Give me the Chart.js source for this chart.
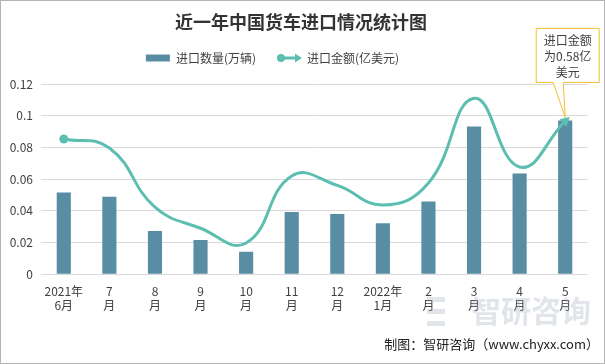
<!DOCTYPE html>
<html>
<head>
<meta charset="utf-8">
<script src="https://cdn.jsdelivr.net/npm/chart.js@4"></script>
<style>
  body { margin: 0; background: #fff; }
  #wrap { width: 605px; height: 364px; box-sizing: border-box; border: 1px solid #b4b4b4; position: relative; }
</style>
</head>
<body>
<div id="wrap"><canvas id="truck-chart" width="603" height="362"></canvas></div>
<script>
const truck_chart = document.getElementById("truck-chart");

const months = [
    ["2021年", "6月"], ["7", "月"], ["8", "月"], ["9", "月"], ["10", "月"], ["11", "月"],
    ["12", "月"], ["2022年", "1月"], ["2", "月"], ["3", "月"], ["4", "月"], ["5", "月"]
];
// 进口数量(万辆)
const quantity = [0.0515, 0.0488, 0.0272, 0.0216, 0.0142, 0.0392, 0.0380, 0.0322, 0.0458, 0.0932, 0.0635, 0.0970];
// 进口金额(亿美元)
const amount = [0.512, 0.478, 0.254, 0.174, 0.118, 0.372, 0.336, 0.262, 0.345, 0.666, 0.406, 0.58];
const y_ticks = [0, 0.02, 0.04, 0.06, 0.08, 0.1, 0.12];

const bar_color = 'rgb(88, 141, 164)';
const line_color = 'rgb(92, 190, 177)';
const legend_shift = -22;

const last = amount.length - 1;
const point_styles = amount.map((v, i) => i === 0 ? 'circle' : (i === last ? 'triangle' : false));
const point_radius = amount.map((v, i) => i === 0 ? 4.5 : (i === last ? 6 : 0));
const point_rotation = amount.map((v, i) => i === last ? 48 : 0);

// extra room under the legend, legend sits a bit left of centre
const legendGap = {
  id: 'legendGap',
  beforeInit(chart) {
    const lg = chart.legend;
    const fit = lg.fit;
    lg.fit = function () {
      fit.bind(lg)();
      this.height += 10;
    };
    const draw = lg.draw;
    lg.draw = function () {
      chart.ctx.save();
      chart.ctx.translate(legend_shift, 0);
      draw.bind(lg)();
      chart.ctx.restore();
    };
  }
};

// title, footer, watermark, callout and legend line symbol
const extras = {
  id: 'extras',
  afterDraw(chart) {
    const ctx = chart.ctx;
    ctx.save();
    ctx.textAlign = 'center';
    ctx.textBaseline = 'middle';
    ctx.fillStyle = '#333';
    ctx.font = 'bold 18px "Noto Sans CJK SC"';
    ctx.fillText('近一年中国货车进口情况统计图', 300, 21);

    // watermark
    ctx.globalAlpha = 0.35;
    ctx.fillStyle = '#a9b4c2';
    ctx.font = 'bold 30px "Noto Sans CJK SC"';
    ctx.textAlign = 'left';
    ctx.fillText('智研咨询', 470, 310);
    ctx.fillRect(426, 296, 18, 5);
    ctx.fillRect(426, 308, 18, 5);
    ctx.fillRect(426, 320, 18, 5);
    ctx.globalAlpha = 1;

    // footer
    ctx.fillStyle = '#222';
    ctx.font = '13px "Noto Sans CJK SC"';
    ctx.textAlign = 'right';
    ctx.fillText('制图：智研咨询（www.chyxx.com）', 598, 343);

    // legend line symbol
    const boxes = chart.legend.legendHitBoxes;
    if (boxes && boxes[1]) {
      const b = boxes[1];
      const bl = b.left + legend_shift;
      const cy = b.top + b.height / 2;
      ctx.fillStyle = '#fff';
      ctx.fillRect(bl - 3, b.top - 3, 30, b.height + 6);
      ctx.strokeStyle = line_color;
      ctx.fillStyle = line_color;
      ctx.lineWidth = 3;
      ctx.beginPath();
      ctx.moveTo(bl + 4, cy);
      ctx.lineTo(bl + 20, cy);
      ctx.stroke();
      ctx.beginPath();
      ctx.arc(bl + 4, cy, 4, 0, Math.PI * 2);
      ctx.fill();
      ctx.beginPath();
      ctx.moveTo(bl + 25, cy);
      ctx.lineTo(bl + 18, cy - 4.5);
      ctx.lineTo(bl + 18, cy + 4.5);
      ctx.closePath();
      ctx.fill();
    }

    // callout on the last point
    const pt = chart.getDatasetMeta(1).data[last];
    const px = pt.x, py = pt.y;
    const l = px - 29, r = px + 34, t = py - 92, btm = py - 38;
    ctx.beginPath();
    ctx.moveTo(l, t);
    ctx.lineTo(r, t);
    ctx.lineTo(r, btm);
    ctx.lineTo(px - 2, btm);
    ctx.lineTo(px, py - 3);
    ctx.lineTo(px - 12, btm);
    ctx.lineTo(l, btm);
    ctx.closePath();
    ctx.fillStyle = '#fff';
    ctx.fill();
    ctx.strokeStyle = 'rgb(245, 190, 50)';
    ctx.lineWidth = 1;
    ctx.stroke();
    ctx.fillStyle = '#404040';
    ctx.font = '12px "Noto Sans CJK SC"';
    ctx.textAlign = 'center';
    const cx = (l + r) / 2;
    ctx.fillText('进口金额', cx, t + 12);
    ctx.fillText('为' + amount[last] + '亿', cx, t + 28);
    ctx.fillText('美元', cx, t + 44);
    ctx.restore();
  }
};

new Chart(truck_chart, {
  data: {
    labels: months,
    datasets: [
      {
        type: 'line',
        label: '进口金额(亿美元)',
        data: amount,
        yAxisID: 'y1',
        borderColor: line_color,
        backgroundColor: line_color,
        borderWidth: 3,
        tension: 0.45,
        pointStyle: point_styles,
        pointRadius: point_radius,
        pointRotation: point_rotation,
        pointBorderWidth: 0,
        order: 0
      },
      {
        type: 'bar',
        label: '进口数量(万辆)',
        data: quantity,
        yAxisID: 'y',
        backgroundColor: bar_color,
        barPercentage: 0.31,
        categoryPercentage: 1,
        order: 1
      }
    ]
  },
  options: {
    responsive: false,
    animation: false,
    layout: { padding: { top: 30, left: 0, right: 16, bottom: 48 } },
    scales: {
      x: {
        grid: { display: false },
        border: { display: false },
        ticks: { color: '#404040', font: { size: 12, family: '"Noto Sans CJK SC"' }, maxRotation: 0, autoSkip: false, padding: 2 }
      },
      y: {
        min: 0,
        max: 0.12,
        afterBuildTicks: (axis) => { axis.ticks = y_ticks.map(v => ({ value: v })); },
        afterFit: (axis) => { axis.width = 40; },
        grid: { color: '#d9d9d9', drawTicks: false },
        border: { display: false },
        ticks: {
          color: '#404040',
          font: { size: 12, family: '"Noto Sans CJK SC"' },
          padding: 8,
          callback: (v) => String(Number(v.toFixed(2)))
        }
      },
      y1: {
        display: false,
        min: 0,
        max: 0.72
      }
    },
    plugins: {
      legend: {
        position: 'top',
        reverse: true,
        labels: {
          color: '#404040',
          font: { size: 12, family: '"Noto Sans CJK SC"' },
          boxWidth: 24,
          boxHeight: 7,
          padding: 21
        }
      },
      tooltip: { enabled: false }
    }
  },
  plugins: [legendGap, extras]
});
</script>
</body>
</html>
